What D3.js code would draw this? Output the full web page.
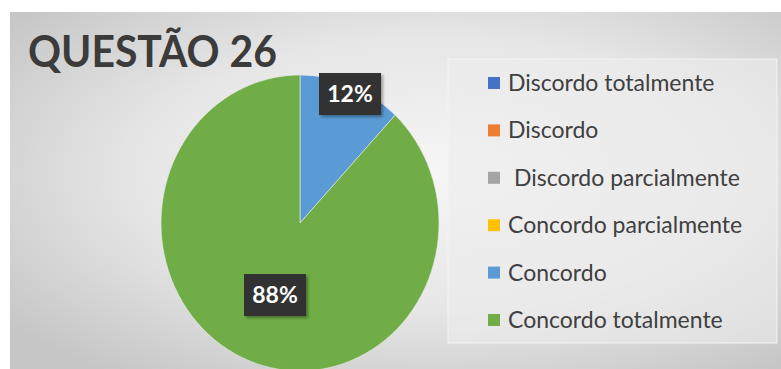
<!DOCTYPE html>
<html><head><meta charset="utf-8">
<script src="https://cdn.jsdelivr.net/npm/d3@7"></script>
<style>html,body{margin:0;padding:0;background:#fff;}svg{display:block;}</style>
</head><body>
<svg id="c" width="781" height="369"></svg>
<script>
const title = "QUESTÃO 26";
const categories = ["Discordo totalmente","Discordo"," Discordo parcialmente","Concordo parcialmente","Concordo","Concordo totalmente"];
const values = [0, 0, 0, 0, 12, 88];
const colors = ["#4472C4","#ED7D31","#A5A5A5","#FFC000","#5B9BD5","#70AD47"];

const svg = d3.select("#c");
const defs = svg.append("defs");
const rg = defs.append("radialGradient").attr("id","bg").attr("cx","0.55").attr("cy","0.45").attr("r","0.7");
rg.append("stop").attr("offset","0").attr("stop-color","#f6f6f6");
rg.append("stop").attr("offset","0.55").attr("stop-color","#e6e6e6");
rg.append("stop").attr("offset","1").attr("stop-color","#c6c6c6");
const sh = defs.append("filter").attr("id","sh").attr("x","-20%").attr("y","-20%").attr("width","150%").attr("height","150%");
sh.append("feDropShadow").attr("dx",2).attr("dy",2).attr("stdDeviation",1.5).attr("flood-color","#000").attr("flood-opacity",0.35);

svg.append("rect").attr("x",10).attr("y",12).attr("width",771).attr("height",357).attr("fill","url(#bg)");

svg.append("text").attr("x",28).attr("y",67).text(title)
  .attr("font-family","Lato, 'Open Sans', sans-serif").attr("font-weight",700)
  .attr("font-size",44).attr("fill","#3b3b3b").attr("textLength",249).attr("lengthAdjust","spacingAndGlyphs");

// pie
const cx = 300, cy = 223, r = 139, sy = 148/139;
const pie = d3.pie().sort(null).value(d => d.v);
const data = pie(categories.map((c,i)=>({c, v: values[i], col: colors[i]})));
const arc = d3.arc().innerRadius(0).outerRadius(r);
const g = svg.append("g").attr("transform",`translate(${cx},${cy}) scale(1,${sy})`);
g.selectAll("path").data(data.filter(d=>d.data.v>0)).join("path")
  .attr("d",arc).attr("fill",d=>d.data.col).attr("stroke","#e8e8e8").attr("stroke-width",0.6);

// labels
const labelPos = {"Concordo":[350,94], "Concordo totalmente":[275,295]};
const lab = svg.append("g");
data.filter(d=>d.data.v>0).forEach(d=>{
  const p = labelPos[d.data.c];
  const t = d.data.v + "%";
  const w = 62, h = 42;
  lab.append("rect").attr("x",p[0]-w/2).attr("y",p[1]-h/2).attr("width",w).attr("height",h)
    .attr("fill","#333333").attr("filter","url(#sh)");
  lab.append("text").attr("x",p[0]).attr("y",p[1]+8).attr("text-anchor","middle")
    .attr("font-family","Lato, 'Open Sans', sans-serif").attr("font-weight",700).attr("font-size",23)
    .attr("fill","#ffffff").text(t);
});

// legend
svg.append("rect").attr("x",448).attr("y",59).attr("width",329).attr("height",284)
  .attr("fill","#ededed").attr("fill-opacity",0.6).attr("stroke","#f4f4f4").attr("stroke-width",1);
const ly = d3.scalePoint().domain(categories).range([83,320]);
const lg = svg.append("g").selectAll("g").data(categories).join("g")
  .attr("transform",d=>`translate(488,${ly(d)})`);
lg.append("rect").attr("x",0).attr("y",-6).attr("width",12).attr("height",12).attr("fill",(d,i)=>colors[i]);
lg.append("text").attr("x",20).attr("y",8).text(d=>d).attr("xml:space","preserve").style("white-space","pre")
  .attr("font-family","Lato, 'Open Sans', sans-serif").attr("font-size",23).attr("fill","#404040");
</script>
</body></html>
